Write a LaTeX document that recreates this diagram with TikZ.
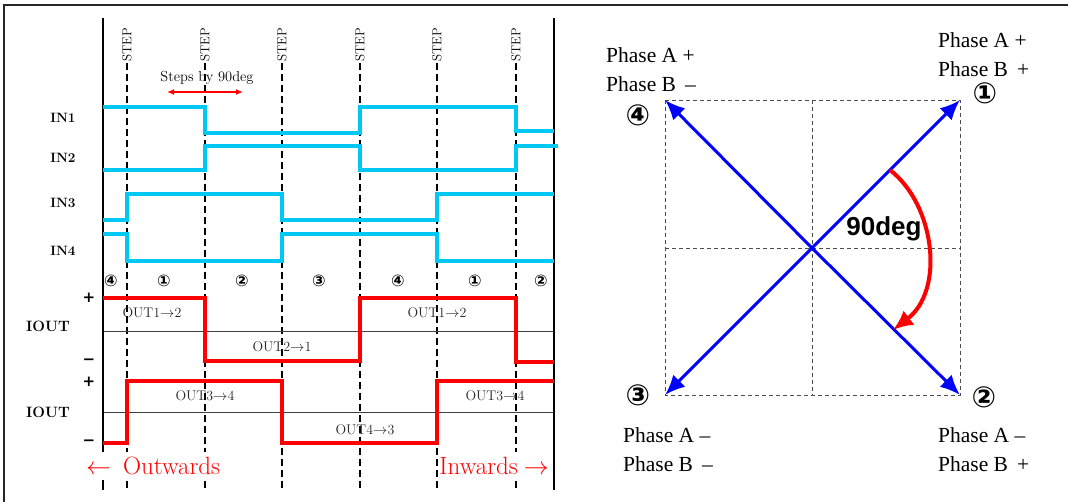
\documentclass[tikz,border=0pt]{standalone}
\usepackage{fontspec}
\usetikzlibrary{arrows.meta}
\newfontfamily\dejavu{DejaVu Sans}
\newfontfamily\timesf{Liberation Serif}
\newfontfamily\arialf{Liberation Sans}
\definecolor{wcyan}{HTML}{00C8F5}
\tikzset{
  wave/.style={wcyan, line width=3.5pt},
  iwave/.style={red, line width=3.5pt},
  stepline/.style={black, line width=1.8pt, dash pattern=on 7pt off 4pt},
  axisline/.style={black, line width=2.8pt},
  zeroline/.style={black!75, line width=0.8pt},
  steplabel/.style={rotate=90, anchor=west, inner sep=0pt, font=\fontsize{13}{13}\selectfont},
  inlabel/.style={font=\fontsize{13.5}{14}\selectfont\bfseries},
  ioutlabel/.style={font=\fontsize{15}{15}\selectfont\bfseries},
  pm/.style={font=\dejavu\bfseries\fontsize{15}{15}\selectfont},
  cnum/.style={font=\dejavu\bfseries\fontsize{16}{16}\selectfont},
  outlabel/.style={font=\fontsize{14}{14}\selectfont, text=black!85},
  dirlabel/.style={text=red, font=\fontsize{25}{25}\selectfont, fill=white, inner xsep=0pt, inner ysep=5pt},
  phase/.style={font=\timesf\fontsize{21.5}{29}\selectfont, align=left, inner sep=0pt},
  bignum/.style={font=\dejavu\bfseries\fontsize{29}{29}\selectfont},
  grid/.style={black!70, line width=0.9pt, dash pattern=on 4pt off 3pt},
  vec/.style={blue, line width=3pt, -{Latex[length=20pt,width=17pt]}},
}
\begin{document}
\begin{tikzpicture}[x=1pt,y=-1pt]
\useasboundingbox (0,0) rectangle (1068,502);
% frame
\draw[black!85, line width=2pt] (4,502) -- (4,5) -- (1068,5);

% ---------- left: timing diagram ----------
\foreach \xx [count=\i] in {127,205,282,360,437,516}{
  \draw[stepline] (\xx,63) -- (\xx,490);
  \node[steplabel] (step\i) at (\xx,62) {STEP};
}
\draw[zeroline] (103,331) -- (554,331);
\draw[zeroline] (103,412) -- (554,412);
\draw[axisline] (103,18) -- (103,490);
\draw[axisline] (554,18) -- (554,490);

\node[font=\fontsize{14.5}{15}\selectfont] (steps) at (207,78) {Steps by 90deg};
\coordinate (sa) at (167,92);
\coordinate (sb) at (243,92);
\draw[red, line width=1.3pt, {Latex[length=7pt,width=6pt]}-{Latex[length=7pt,width=6pt]}] (sa) -- (sb);

\draw[wave] (103,107) -- (205,107) -- (205,133) -- (360,133) -- (360,107) -- (516,107) -- (516,131) -- (554,131);
\draw[wave] (103,170) -- (205,170) -- (205,146) -- (360,146) -- (360,170) -- (516,170) -- (516,146) -- (558,146);
\draw[wave] (103,220) -- (127,220) -- (127,194) -- (282,194) -- (282,220) -- (437,220) -- (437,194) -- (554,194);
\draw[wave] (103,234) -- (127,234) -- (127,261) -- (282,261) -- (282,234) -- (437,234) -- (437,261) -- (554,261);

\node[inlabel] (in1) at (63,118) {IN1};
\node[inlabel] (in2) at (63,158) {IN2};
\node[inlabel] (in3) at (63,203) {IN3};
\node[inlabel] (in4) at (63,251) {IN4};

\node[cnum] (c1) at (111,281) {④};
\node[cnum] (c2) at (164,281) {①};
\node[cnum] (c3) at (242,281) {②};
\node[cnum] (c4) at (319,281) {③};
\node[cnum] (c5) at (398,281) {④};
\node[cnum] (c6) at (475,281) {①};
\node[cnum] (c7) at (541,281) {②};

\draw[iwave] (103,298) -- (205,298) -- (205,361) -- (360,361) -- (360,298) -- (516,298) -- (516,362) -- (554,362);
\draw[iwave] (103,443) -- (127,443) -- (127,381) -- (282,381) -- (282,443) -- (437,443) -- (437,381) -- (554,381);

\node[pm] (p1) at (89,298) {+};
\node[pm] (m1) at (89,362) {−};
\node[pm] (p2) at (89,382) {+};
\node[pm] (m2) at (89,443) {−};
\node[ioutlabel] (iout1) at (48,326) {IOUT};
\node[ioutlabel] (iout2) at (48,412) {IOUT};

\node[outlabel] (o1) at (152,313) {OUT1$\rightarrow$2};
\node[outlabel] (o2) at (282,347) {OUT2$\rightarrow$1};
\node[outlabel] (o3) at (437,313) {OUT1$\rightarrow$2};
\node[outlabel] (o4) at (205,396) {OUT3$\rightarrow$4};
\node[outlabel] (o5) at (365,430) {OUT4$\rightarrow$3};
\node[outlabel] (o6) at (495,396) {OUT3$\rightarrow$4};

\node[dirlabel, anchor=west] (outw) at (86,466) {$\leftarrow$\hspace{12pt}Outwards};
\node[dirlabel, anchor=east] (inw) at (549,466) {Inwards\hspace{6pt}$\rightarrow$};

% ---------- right: phase diagram ----------
\coordinate (ctr) at (812,248);
\coordinate (q1) at (960,100);
\coordinate (q2) at (960,395);
\coordinate (q3) at (665,395);
\coordinate (q4) at (665,100);
\draw[grid] (q4) rectangle (q2);
\draw[grid] (812,100) -- (812,395);
\draw[grid] (665,248) -- (960,248);

\draw[vec] (ctr) -- (q1);
\draw[vec] (ctr) -- (q2);
\draw[vec] (ctr) -- (q3);
\draw[vec] (ctr) -- (q4);

\coordinate (ra) at (890,170);
\coordinate (rb) at (893,330);
\draw[red, line width=4pt, -{Latex[length=20pt,width=18pt]}] (ra) .. controls (935,205) and (945,290) .. (rb);
\node[font=\arialf\bfseries\fontsize{26}{26}\selectfont] (deg) at (884,229) {90deg};

\node[bignum] (n1) at (985,93) {①};
\node[bignum] (n4) at (638,115) {④};
\node[bignum] (n3) at (638,395) {③};
\node[bignum] (n2) at (984,397) {②};

\node[phase, anchor=west] (ph4) at (606,70) {Phase A +\\Phase B \,–};
\node[phase, anchor=west] (ph1) at (938,55) {Phase A +\\Phase B \,+};
\node[phase, anchor=west] (ph3) at (623,450) {Phase A –\\Phase B \,–};
\node[phase, anchor=west] (ph2) at (938,450) {Phase A –\\Phase B \,+};
\end{tikzpicture}
\end{document}
